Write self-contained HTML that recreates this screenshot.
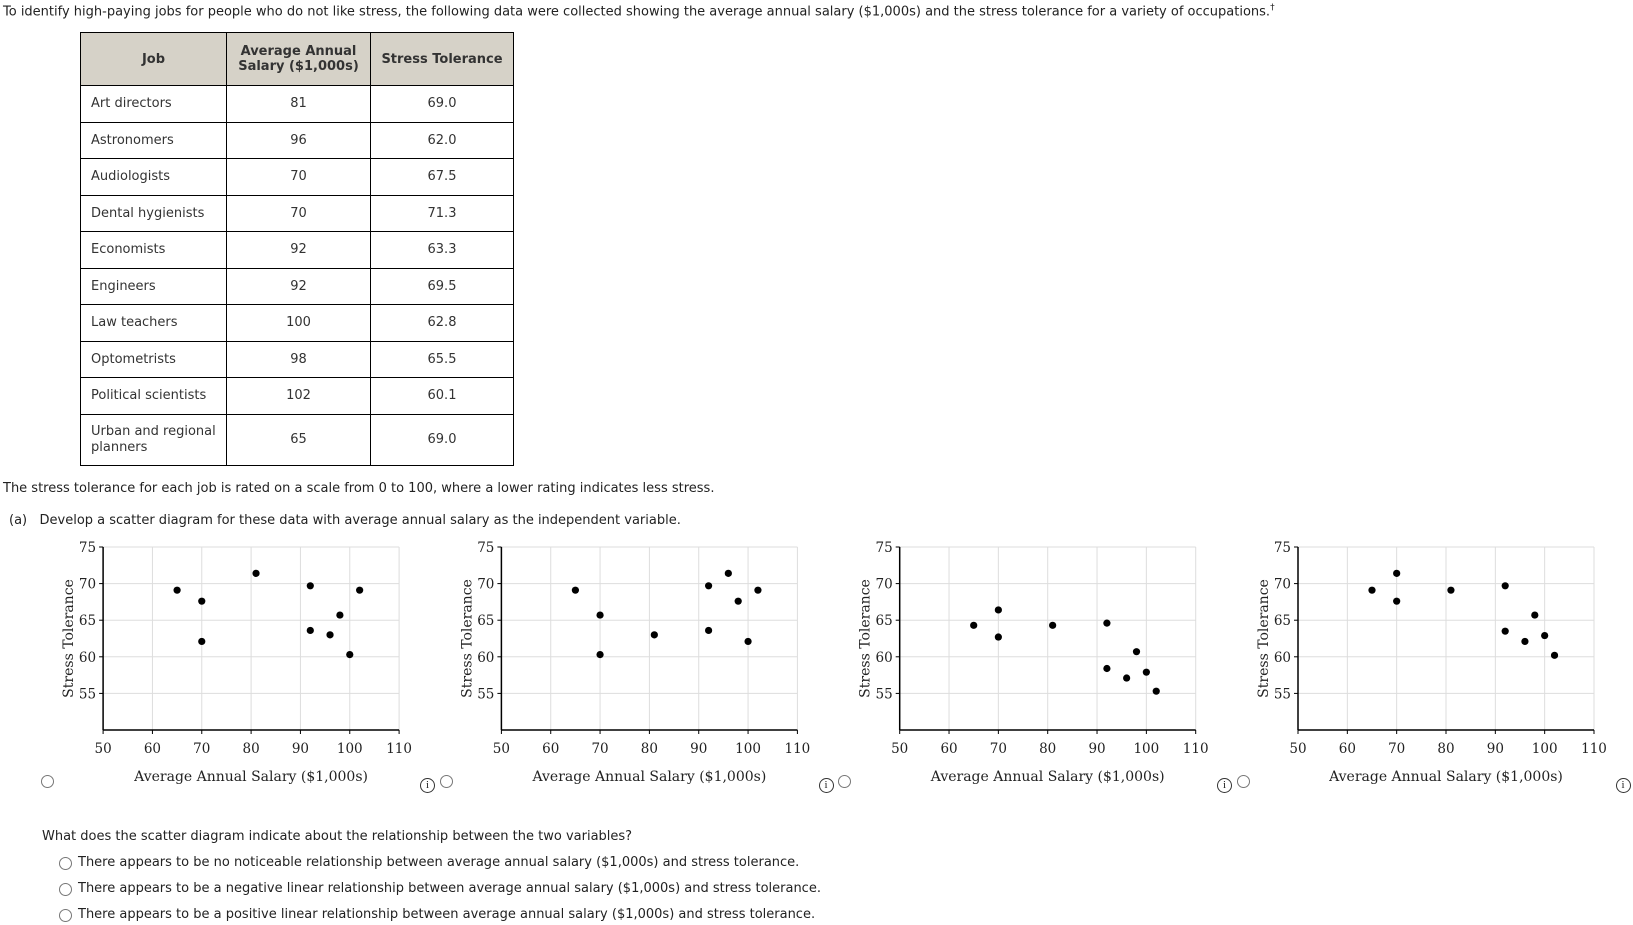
<!DOCTYPE html>
<html><head><meta charset="utf-8"><style>
body{margin:0;width:1633px;height:925px;background:#fff;position:relative;font-family:"DejaVu Sans","Liberation Sans",sans-serif;font-size:13px;color:#222;overflow:hidden}
.t{position:absolute;white-space:nowrap}
table{position:absolute;left:80px;top:32px;border-collapse:collapse}
td,th{border:1.5px solid #000;font-size:13px;color:#333;padding:0 10px;text-align:center}
th{background:#d6d2c8;height:52px;font-weight:bold}
td{height:35.5px}
td.j{text-align:left}
.radio{position:absolute;width:11px;height:11px;border:1px solid #777;border-radius:50%;background:#fff}
.info{position:absolute;width:13px;height:13px;border:1px solid #333;border-radius:50%;font:11px "Liberation Serif",serif;text-align:center;line-height:13px}
svg{position:absolute;left:0;top:0}
</style></head><body>
<div class="t" style="left:3px;top:3px">To identify high-paying jobs for people who do not like stress, the following data were collected showing the average annual salary ($1,000s) and the stress tolerance for a variety of occupations.<sup style="font-size:9px">†</sup></div>
<table>
<tr><th style="width:125px">Job</th><th style="width:123px">Average Annual<br>Salary ($1,000s)</th><th style="width:122px">Stress Tolerance</th></tr>
<tr><td class="j">Art directors</td><td>81</td><td>69.0</td></tr>
<tr><td class="j">Astronomers</td><td>96</td><td>62.0</td></tr>
<tr><td class="j">Audiologists</td><td>70</td><td>67.5</td></tr>
<tr><td class="j">Dental hygienists</td><td>70</td><td>71.3</td></tr>
<tr><td class="j">Economists</td><td>92</td><td>63.3</td></tr>
<tr><td class="j">Engineers</td><td>92</td><td>69.5</td></tr>
<tr><td class="j">Law teachers</td><td>100</td><td>62.8</td></tr>
<tr><td class="j">Optometrists</td><td>98</td><td>65.5</td></tr>
<tr><td class="j">Political scientists</td><td>102</td><td>60.1</td></tr>
<tr><td class="j" style="height:50px;line-height:16px">Urban and regional<br>planners</td><td>65</td><td>69.0</td></tr>
</table>
<div class="t" style="left:3px;top:481px">The stress tolerance for each job is rated on a scale from 0 to 100, where a lower rating indicates less stress.</div>
<div class="t" style="left:9px;top:513px">(a)&nbsp;&nbsp; Develop a scatter diagram for these data with average annual salary as the independent variable.</div>
<svg id="charts" width="1633" height="925"></svg>
<div class="t" style="left:42px;top:829px">What does the scatter diagram indicate about the relationship between the two variables?</div>
<div class="radio" style="left:59px;top:857px"></div>
<div class="t" style="left:78px;top:855px">There appears to be no noticeable relationship between average annual salary ($1,000s) and stress tolerance.</div>
<div class="radio" style="left:59px;top:883px"></div>
<div class="t" style="left:78px;top:881px">There appears to be a negative linear relationship between average annual salary ($1,000s) and stress tolerance.</div>
<div class="radio" style="left:59px;top:909px"></div>
<div class="t" style="left:78px;top:907px">There appears to be a positive linear relationship between average annual salary ($1,000s) and stress tolerance.</div>
<script>
const xTicks=[50,60,70,80,90,100,110];
const yTicks=[55,60,65,70,75];
const xs1=[65,70,70,81,92,92,96,98,100,102];
const ys1=[69.1,67.6,62.1,71.4,69.7,63.6,63.0,65.7,60.3,69.1];
const xs2=[65,70,70,81,92,92,96,98,100,102];
const ys2=[69.1,65.7,60.3,63.0,69.7,63.6,71.4,67.6,62.1,69.1];
const xs3=[65,70,70,81,92,92,96,98,100,102];
const ys3=[64.3,66.4,62.7,64.3,64.6,58.4,57.1,60.7,57.9,55.3];
const xs4=[65,70,70,81,92,92,96,98,100,102];
const ys4=[69.1,71.4,67.6,69.1,69.7,63.5,62.1,65.7,62.9,60.2];
const sets=[[xs1,ys1],[xs2,ys2],[xs3,ys3],[xs4,ys4]];
const svg=document.getElementById('charts');
const NS='http://www.w3.org/2000/svg';
function mk(t,a,p){const e=document.createElementNS(NS,t);for(const k in a)e.setAttribute(k,a[k]);(p||svg).appendChild(e);return e;}
sets.forEach((s,i)=>{
  const ox=1298-(3-i)*398.3;
  const g=mk('g',{});
  
  
  const X=v=>ox+(v-50)*296/60;
  const Y=v=>730-(v-50)*183/25;
  xTicks.forEach(v=>{if(v>50)mk('line',{x1:X(v),x2:X(v),y1:Y(75),y2:Y(50),stroke:'#ddd'},g);
    const t=mk('text',{x:X(v),y:753,'text-anchor':'middle','font-family':'"DejaVu Serif","Liberation Serif",serif','font-size':13.5,fill:'#222'},g);t.textContent=v;
    mk('line',{x1:X(v),x2:X(v),y1:Y(50),y2:Y(50)+4,stroke:'#000'},g);});
  yTicks.forEach(v=>{mk('line',{x1:X(50),x2:X(110),y1:Y(v),y2:Y(v),stroke:'#ddd'},g);
    mk('line',{x1:X(50)-4,x2:X(50),y1:Y(v),y2:Y(v),stroke:'#000'},g);
    const t=mk('text',{x:X(50)-7,y:Y(v)+5,'text-anchor':'end','font-family':'"DejaVu Serif","Liberation Serif",serif','font-size':13.5,fill:'#222'},g);t.textContent=v;});
  mk('line',{x1:X(50),x2:X(50),y1:Y(75),y2:Y(50),stroke:'#000','stroke-width':1.5},g);
  mk('line',{x1:X(50),x2:X(110),y1:Y(50),y2:Y(50),stroke:'#000','stroke-width':1.5},g);
  const xt=mk('text',{x:X(80),y:781,'text-anchor':'middle','font-family':'"DejaVu Serif","Liberation Serif",serif','font-size':14,fill:'#222'},g);
  
  xt.textContent='Average Annual Salary ($1,000s)';
  const yt=mk('text',{x:0,y:0,transform:`translate(${ox-30},${Y(62.5)}) rotate(-90)`,'text-anchor':'middle','font-family':'"DejaVu Serif","Liberation Serif",serif','font-size':14,fill:'#222'},g);
  
  yt.textContent='Stress Tolerance';
  s[0].forEach((x,k)=>{const c=mk('circle',{cx:X(x),cy:Y(s[1][k]),r:3.6,fill:'#000'},g);
    
    });
  const r=document.createElement('div');r.className='radio';
  r.style.left=(47+i*398.5-6)+'px';r.style.top='775px';
  
  
  document.body.appendChild(r);
  const inf=document.createElement('div');inf.className='info';inf.textContent='i';
  inf.style.left=(427+i*398.5-7)+'px';inf.style.top='778px';
  
  
  document.body.appendChild(inf);
});
</script>
</body></html>
